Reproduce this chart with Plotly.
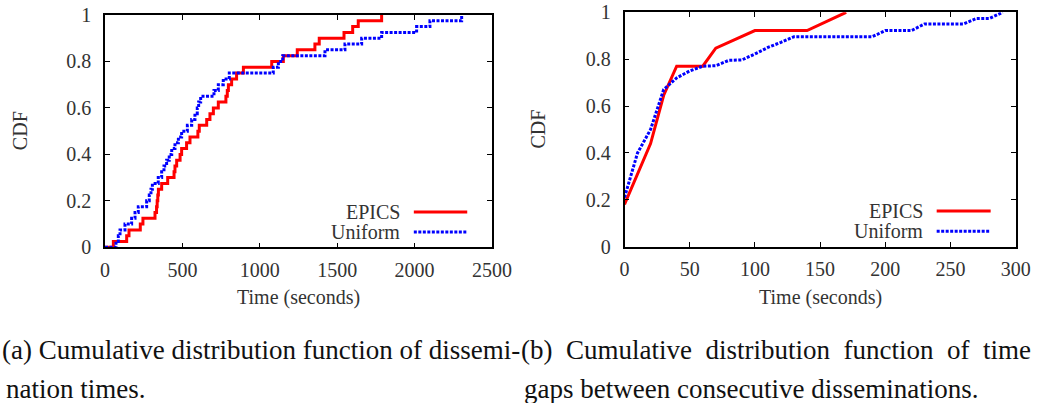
import plotly.graph_objects as go

# ---------------- data ----------------
# (a) dissemination times (step CDF)
epics_a_time = [0, 54, 140, 155, 228, 245, 323, 333, 337, 341, 345, 366, 405, 446, 452, 463,
                485, 495, 527, 549, 600, 609, 657, 678, 700, 732, 781, 790, 797, 818, 850, 894,
                1077, 1152, 1242, 1356, 1384, 1544, 1600, 1636, 1787]
epics_a_cdf = [0, 0.025, 0.05, 0.075, 0.1, 0.125, 0.15, 0.175, 0.2, 0.225, 0.25, 0.275, 0.3,
               0.325, 0.35, 0.375, 0.4, 0.425, 0.45, 0.475, 0.5, 0.525, 0.55, 0.575, 0.6,
               0.625, 0.65, 0.675, 0.7, 0.725, 0.75, 0.775, 0.8, 0.825, 0.85, 0.875, 0.9,
               0.925, 0.95, 0.975, 1.0]
uniform_a_time = [0, 71, 86, 97, 129, 172, 194, 215, 269, 286, 297, 306, 344, 366, 381, 398,
                  415, 431, 452, 474, 495, 532, 560, 581, 596, 605, 618, 704, 732, 764, 803,
                  1087, 1120, 1148, 1421, 1550, 1658, 1787, 2013, 2099, 2304]
uniform_a_cdf = [0, 0.025, 0.05, 0.075, 0.1, 0.125, 0.15, 0.175, 0.2, 0.225, 0.25, 0.275, 0.3,
                 0.325, 0.35, 0.375, 0.4, 0.425, 0.45, 0.475, 0.5, 0.525, 0.55, 0.575, 0.6,
                 0.625, 0.65, 0.675, 0.7, 0.725, 0.75, 0.775, 0.8, 0.825, 0.85, 0.875, 0.9,
                 0.925, 0.95, 0.975, 1.0]

# (b) time gaps between consecutive disseminations
epics_b_time = [0, 20, 30, 40, 60, 70, 100, 140, 170]
epics_b_cdf = [0.18, 0.44, 0.645, 0.77, 0.77, 0.847, 0.922, 0.922, 1.0]
uniform_b_time = [0, 10, 20, 30, 40, 50, 60, 70, 80, 90, 100, 110, 120, 130, 140, 150, 160,
                  170, 180, 190, 200, 210, 220, 230, 240, 250, 260, 270, 280, 290]
uniform_b_cdf = [0.21, 0.40, 0.50, 0.67, 0.72, 0.75, 0.77, 0.772, 0.795, 0.797, 0.822, 0.85,
                 0.872, 0.896, 0.896, 0.896, 0.896, 0.896, 0.896, 0.896, 0.922, 0.922, 0.922,
                 0.95, 0.95, 0.95, 0.95, 0.974, 0.974, 1.0]

x_ticks_a = [0, 500, 1000, 1500, 2000, 2500]
x_ticks_b = [0, 50, 100, 150, 200, 250, 300]
y_ticks = [0, 0.2, 0.4, 0.6, 0.8, 1]
series_names = ["EPICS", "Uniform"]
x_title = "Time (seconds)"
y_title = "CDF"
caption_a = ["(a) Cumulative distribution function of dissemi-", "nation times."]
caption_b = ["(b)&nbsp; Cumulative&nbsp; distribution&nbsp; function&nbsp; of&nbsp; time",
             "gaps between consecutive disseminations."]

# ---------------- styling ----------------
W, H = 1037, 403
RED = "#ff0000"
BLUE = "#0000ff"
SERIF = "Liberation Serif, Times New Roman, DejaVu Serif, serif"
TICK_FONT = dict(family=SERIF, size=20, color="#333333")
CAP_FONT = dict(family=SERIF, size=27, color="#111111")
red_line = dict(color=RED, width=3)
blue_line = dict(color=BLUE, width=3, dash="3px,1.5px")

fig = go.Figure()
fig.add_trace(go.Scatter(x=epics_a_time, y=epics_a_cdf, mode="lines", line=red_line,
                         line_shape="hv", xaxis="x", yaxis="y", showlegend=False))
fig.add_trace(go.Scatter(x=uniform_a_time, y=uniform_a_cdf, mode="lines", line=blue_line,
                         line_shape="hv", xaxis="x", yaxis="y", showlegend=False))
fig.add_trace(go.Scatter(x=epics_b_time, y=epics_b_cdf, mode="lines", line=red_line,
                         xaxis="x2", yaxis="y2", showlegend=False))
fig.add_trace(go.Scatter(x=uniform_b_time, y=uniform_b_cdf, mode="lines", line=blue_line,
                         xaxis="x2", yaxis="y2", showlegend=False))

dom_a_x = [105 / W, 492 / W]
dom_b_x = [624.5 / W, 1015.7 / W]
dom_a_y = [1 - 247.3 / H, 1 - 15 / H]
dom_b_y = [1 - 246.7 / H, 1 - 12.3 / H]

axis_common = dict(showline=True, linecolor="black", linewidth=1.5, mirror="allticks",
                   ticks="inside", ticklen=5, tickwidth=1, tickcolor="black",
                   showgrid=False, zeroline=False, tickfont=TICK_FONT, automargin=False)

fig.update_layout(
    width=W, height=H, margin=dict(l=0, r=0, t=0, b=0),
    paper_bgcolor="white", plot_bgcolor="white",
    xaxis=dict(domain=dom_a_x, range=[0, 2500], tickvals=x_ticks_a, anchor="y",
               ticklabelstandoff=4, **axis_common),
    yaxis=dict(domain=dom_a_y, range=[0, 1], tickvals=y_ticks, anchor="x",
               ticklabelstandoff=8, **axis_common),
    xaxis2=dict(domain=dom_b_x, range=[0, 300], tickvals=x_ticks_b, anchor="y2",
                ticklabelstandoff=4, **axis_common),
    yaxis2=dict(domain=dom_b_y, range=[0, 1], tickvals=y_ticks, anchor="x2",
                ticklabelstandoff=8, **axis_common),
)

annotations = []
shapes = []
# axis titles
for xd, yd, ycx in [(dom_a_x, dom_a_y, 20), (dom_b_x, dom_b_y, 537)]:
    annotations.append(dict(x=(xd[0] + xd[1]) / 2, y=1 - 297 / H, xref="paper", yref="paper",
                            text=x_title, showarrow=False, font=TICK_FONT,
                            xanchor="center", yanchor="middle"))
    annotations.append(dict(x=ycx / W, y=(yd[0] + yd[1]) / 2, xref="paper", yref="paper",
                            text=y_title, showarrow=False, font=TICK_FONT, textangle=-90,
                            xanchor="center", yanchor="middle"))

# legends (gnuplot style: label left, sample right)
for xr, yr in [("x domain", "y domain"), ("x2 domain", "y2 domain")]:
    for name, ly, ln in [(series_names[0], 0.152, red_line), (series_names[1], 0.066, blue_line)]:
        annotations.append(dict(x=0.768, y=ly, xref=xr, yref=yr, text=name, showarrow=False,
                                font=TICK_FONT, xanchor="right", yanchor="middle"))
        shapes.append(dict(type="line", x0=0.798, x1=0.936, y0=ly, y1=ly, xref=xr, yref=yr,
                           line=ln))

# captions
annotations.append(dict(x=0, y=1 - 350 / H, xref="paper", yref="paper", text=caption_a[0],
                        showarrow=False, font=CAP_FONT, xanchor="left", yanchor="middle"))
annotations.append(dict(x=4 / W, y=1 - 389 / H, xref="paper", yref="paper", text=caption_a[1],
                        showarrow=False, font=CAP_FONT, xanchor="left", yanchor="middle"))
annotations.append(dict(x=519 / W, y=1 - 350 / H, xref="paper", yref="paper", text=caption_b[0],
                        showarrow=False, font=CAP_FONT, xanchor="left", yanchor="middle"))
annotations.append(dict(x=522 / W, y=1 - 389 / H, xref="paper", yref="paper", text=caption_b[1],
                        showarrow=False, font=CAP_FONT, xanchor="left", yanchor="middle"))

fig.update_layout(annotations=annotations, shapes=shapes)
fig.write_html("out.html", config={"displayModeBar": False},
               post_script="document.body.style.margin='0';document.body.style.overflow='hidden';")
